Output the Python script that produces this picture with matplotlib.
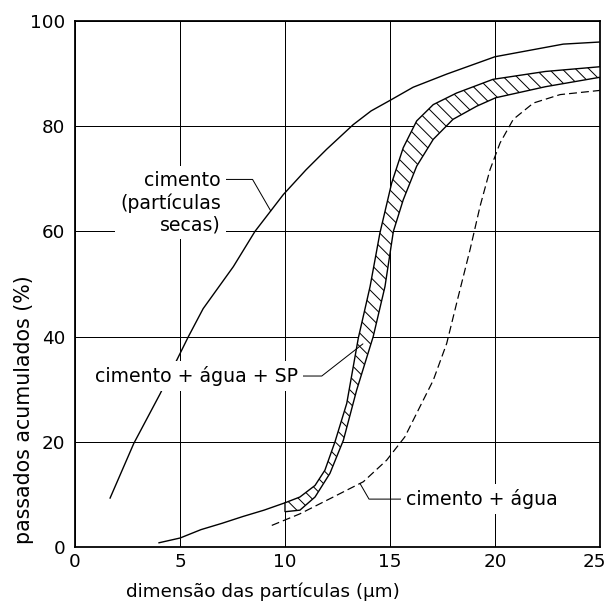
import matplotlib.pyplot as plt
from matplotlib.transforms import ScaledTranslation
import numpy as np

plt.rcParams['font.family'] = ['DejaVu Sans']
plt.rcParams['hatch.linewidth'] = 0.9

# cimento, particulas secas
seco_x = [1.67, 2.8, 4.05, 5.4, 6.1, 7.54, 8.57, 9.92, 11.0, 11.98, 13.25, 14.1, 15.0, 16.1, 17.7, 20.0, 23.25, 25.0]
seco_y = [9.3, 19.7, 29.1, 40.0, 45.3, 53.3, 60.0, 67.0, 71.7, 75.6, 80.3, 82.9, 84.9, 87.4, 89.9, 93.2, 95.6, 96.0]

# cimento + agua + SP: trecho unico antes da faixa
sp_cauda_x = [4.0, 5.0, 6.0, 7.0, 8.0, 9.0, 10.0]
sp_cauda_y = [0.8, 1.7, 3.3, 4.5, 5.8, 7.0, 8.4]

# cimento + agua + SP: limites da faixa
sp_sup_x = [10.0, 10.71, 11.43, 11.9, 12.38, 12.94, 13.49, 14.05, 14.52, 15.08, 15.63, 16.27, 17.06, 18.17, 19.9, 22.4, 25.0]
sp_sup_y = [8.4, 9.5, 11.7, 14.6, 20.0, 27.3, 39.7, 49.5, 59.7, 69.2, 75.9, 81.0, 84.1, 86.3, 88.9, 90.4, 91.3]
sp_inf_x = [10.0, 10.71, 11.43, 12.14, 12.78, 13.41, 14.2, 14.76, 15.16, 15.63, 16.27, 17.06, 18.0, 19.13, 20.03, 22.4, 25.0]
sp_inf_y = [6.7, 7.0, 9.5, 14.0, 20.3, 29.8, 40.0, 49.5, 60.0, 66.0, 72.4, 77.5, 81.3, 83.8, 85.4, 87.5, 89.3]

# cimento + agua
agua_x = [9.37, 10.71, 12.3, 13.73, 14.84, 15.71, 16.43, 17.06, 17.7, 18.25, 18.81, 19.29, 19.76, 20.24, 20.87, 21.83, 23.1, 25.0]
agua_y = [4.1, 6.3, 9.5, 12.4, 16.5, 20.95, 26.7, 31.7, 38.7, 47.6, 56.5, 64.8, 71.7, 76.8, 81.3, 84.4, 86.0, 86.8]

x_ticks = [0, 5, 10, 15, 20, 25]
y_ticks = [0, 20, 40, 60, 80, 100]

fig = plt.figure(figsize=(7.575, 7.575), dpi=80)
ax = fig.add_axes([0.1238, 0.0974, 0.8663, 0.868])

ax.set_xlim(0, 25)
ax.set_ylim(0, 100)
ax.set_xticks(x_ticks)
ax.set_yticks(y_ticks)
ax.grid(True, color='black', lw=0.9)
ax.set_axisbelow(True)
for s in ax.spines.values():
    s.set_linewidth(1.6)
ax.tick_params(length=0, labelsize=16.5)
ax.tick_params(axis='x', pad=5.5)
ax.tick_params(axis='y', pad=9)
# ultimo rotulo do eixo x puxado para dentro da figura
ultimo = ax.get_xticklabels()[-1]
ultimo.set_transform(ultimo.get_transform() + ScaledTranslation(-6 / 80, 0, fig.dpi_scale_trans))

ax.set_xlabel("dimensão das partículas (μm)", fontsize=16.5)
ax.set_ylabel("passados acumulados (%)", fontsize=18.5)
ax.xaxis.set_label_coords(0.358, -0.068)
ax.yaxis.set_label_coords(-0.078, 0.262)

ax.plot(seco_x, seco_y, color='black', lw=1.25, zorder=3)
ax.plot(sp_cauda_x, sp_cauda_y, color='black', lw=1.25, zorder=3)
ax.fill(np.concatenate([sp_sup_x, sp_inf_x[::-1]]), np.concatenate([sp_sup_y, sp_inf_y[::-1]]),
        facecolor='white', edgecolor='black', hatch='\\\\', lw=1.25, zorder=3)
ax.plot(agua_x, agua_y, color='black', lw=1.1, ls=(0, (6.5, 3.3)), zorder=3)

caixa = dict(boxstyle='square,pad=0.25', facecolor='white', edgecolor='none')
seta = dict(arrowstyle='-', color='black', lw=0.9, shrinkA=0, shrinkB=0)

# rotulos com linha de chamada
x1 = 9.32
ax.annotate("cimento\n(partículas\nsecas)", xy=(x1, np.interp(x1, seco_x, seco_y)), xytext=(6.95, 65.4),
            ha='right', va='center', multialignment='right', fontsize=17, bbox=caixa, zorder=5,
            arrowprops=dict(seta, connectionstyle='angle,angleA=0,angleB=120,rad=0', relpos=(1, 0.87)))

x2 = 13.71
y2 = (np.interp(x2, sp_sup_x, sp_sup_y) + np.interp(x2, sp_inf_x, sp_inf_y)) / 2
ax.annotate("cimento + água + SP", xy=(x2, y2), xytext=(10.62, 32.5),
            ha='right', va='center', fontsize=17, bbox=caixa, zorder=5,
            arrowprops=dict(seta, connectionstyle='angle,angleA=0,angleB=-142,rad=0', relpos=(1, 0.5)))

x3 = 13.57
ax.annotate("cimento + água", xy=(x3, np.interp(x3, agua_x, agua_y)), xytext=(15.76, 9.1),
            ha='left', va='center', fontsize=17, bbox=caixa, zorder=5,
            arrowprops=dict(seta, connectionstyle='angle,angleA=0,angleB=-60,rad=0', relpos=(0, 0.5)))

fig.savefig("out.png", dpi=80)
